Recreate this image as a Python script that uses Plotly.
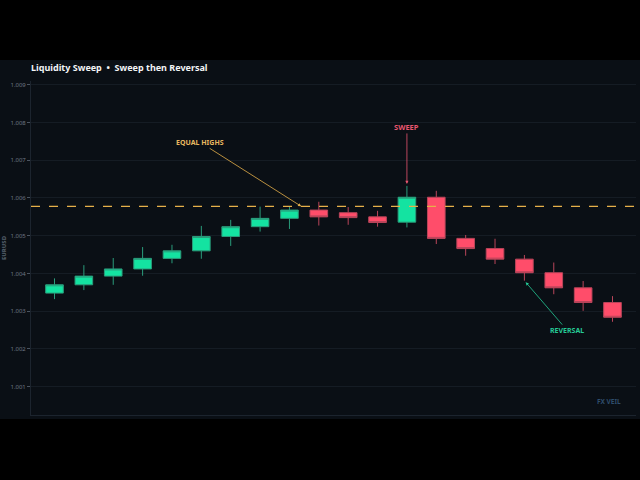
import plotly.graph_objects as go

# ---- data ----
idx = list(range(20))
open_ = [1.00348, 1.00370, 1.00393, 1.00412, 1.00440, 1.00460, 1.00498, 1.00524, 1.00546, 1.00568,
         1.00561, 1.00550, 1.00536, 1.00602, 1.00493, 1.00466, 1.00438, 1.00402, 1.00362, 1.00323]
high = [1.00387, 1.00422, 1.00441, 1.00470, 1.00476, 1.00526, 1.00542, 1.00577, 1.00577, 1.00590,
        1.00576, 1.00566, 1.00632, 1.00619, 1.00502, 1.00492, 1.00449, 1.00429, 1.00380, 1.00340]
low = [1.00332, 1.00356, 1.00370, 1.00394, 1.00427, 1.00439, 1.00473, 1.00511, 1.00518, 1.00527,
       1.00529, 1.00524, 1.00522, 1.00478, 1.00447, 1.00425, 1.00381, 1.00345, 1.00301, 1.00272]
close = [1.00370, 1.00393, 1.00412, 1.00440, 1.00460, 1.00498, 1.00524, 1.00546, 1.00568, 1.00550,
         1.00548, 1.00535, 1.00602, 1.00493, 1.00466, 1.00438, 1.00402, 1.00362, 1.00323, 1.00284]
liquidity_level = 1.00578
y_ticks = [1.001, 1.002, 1.003, 1.004, 1.005, 1.006, 1.007, 1.008, 1.009]
sweep_idx = 12
reversal_idx = 16
equal_highs_x = 8.4

PANEL = "#0a0f15"
GREEN = "#14e3a1"
RED = "#ff4d6a"
GOLD = "#e6b04a"

fig = go.Figure()
fig.add_trace(go.Candlestick(
    x=idx, open=open_, high=high, low=low, close=close,
    increasing=dict(fillcolor=GREEN, line=dict(color="#2a9c7b", width=1)),
    decreasing=dict(fillcolor=RED, line=dict(color="#b9455a", width=1)),
    showlegend=False, hoverinfo="skip",
))

fig.add_shape(type="rect", xref="paper", yref="paper",
              x0=-0.06, x1=1.01, y0=-0.012, y1=1.063,
              fillcolor=PANEL, line=dict(width=0), layer="below")
fig.add_shape(type="line", xref="paper", yref="y", x0=0, x1=1,
              y0=liquidity_level, y1=liquidity_level,
              line=dict(color=GOLD, width=1.2, dash="dash"))

ann_font = dict(family="Noto Sans", size=7)
fig.add_annotation(x=equal_highs_x, y=liquidity_level, text="<b>EQUAL HIGHS</b>",
                   font=dict(ann_font, color="#e8b860"), showarrow=True,
                   arrowhead=2, arrowsize=0.8, arrowwidth=0.8, arrowcolor=GOLD,
                   ax=-101, ay=-64)
fig.add_annotation(x=sweep_idx, y=high[sweep_idx], text="<b>SWEEP</b>",
                   font=dict(ann_font, color="#e8566f", size=7.5), showarrow=True,
                   arrowhead=2, arrowsize=0.8, arrowwidth=0.8, arrowcolor="#e8566f",
                   ax=0, ay=-59, standoff=2)
fig.add_annotation(x=reversal_idx, y=low[reversal_idx], text="<b>REVERSAL</b>",
                   font=dict(ann_font, color="#25c995"), showarrow=True,
                   arrowhead=2, arrowsize=0.8, arrowwidth=0.8, arrowcolor="#25c995",
                   ax=43, ay=50, standoff=2)
fig.add_annotation(xref="paper", yref="paper", x=0.978, y=0.039, text="<b>FX VEIL</b>",
                   showarrow=False, xanchor="right", yanchor="middle",
                   font=dict(family="Noto Sans", size=6.5, color="#2f4d6c"))

fig.update_layout(
    width=640, height=480,
    paper_bgcolor="#000000", plot_bgcolor=PANEL,
    margin=dict(l=31, r=4, t=81, b=65, autoexpand=False),
    boxgap=0.4, boxgroupgap=0,
    title=dict(text="<b>Liquidity Sweep  •  Sweep then Reversal</b>",
               x=31/640, xanchor="left", y=1-68/480, yanchor="middle",
               font=dict(family="Noto Sans", size=9, color="#f2f4f6")),
    xaxis=dict(range=[-0.8, 19.8], showgrid=False, showticklabels=False, ticks="",
               rangeslider=dict(visible=False), showline=True, linecolor="#1c242e",
               linewidth=1, zeroline=False, automargin=False),
    yaxis=dict(range=[1.00025, 1.0091], tickvals=y_ticks, tickformat=".3f",
               showgrid=True, gridcolor="#151c24", gridwidth=1, zeroline=False,
               showline=True, linecolor="#1c242e", ticks="outside", ticklen=3,
               tickcolor="#4a5461", tickfont=dict(family="Noto Sans", size=6, color="#6b7682"),
               automargin=False,
               title=dict(text="<b>EURUSD</b>", standoff=4,
                          font=dict(family="Noto Sans", size=6, color="#56616d"))),
    font=dict(family="Noto Sans"),
)

fig.write_html("out.html", config={"displayModeBar": False},
               post_script="document.body.style.margin='0';document.body.style.background='#000';")
